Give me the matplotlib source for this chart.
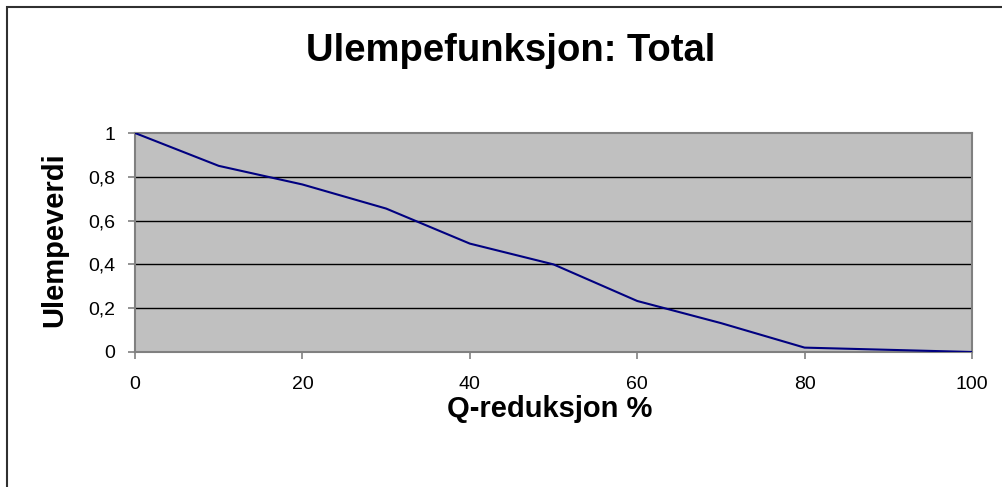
import matplotlib
matplotlib.use("Agg")
import matplotlib.pyplot as plt
from matplotlib.patches import Rectangle

x_values = [0, 10, 20, 30, 40, 50, 60, 70, 80, 90, 100]
y_values = [1.0, 0.85, 0.765, 0.655, 0.495, 0.40, 0.233, 0.132, 0.02, 0.01, 0.0]
x_ticks = [0, 20, 40, 60, 80, 100]
y_ticks = [0, 0.2, 0.4, 0.6, 0.8, 1.0]
y_tick_labels = ["0", "0,2", "0,4", "0,6", "0,8", "1"]

plt.rcParams['font.family'] = ['Liberation Sans', 'DejaVu Sans']

W, H = 1002, 487
fig = plt.figure(figsize=(W / 100, H / 100), dpi=100)
fig.patch.set_facecolor('white')

# outer chart frame (only left/top visible)
fig.patches.append(Rectangle((7 / W, -0.1), 1.2, 1 - 7 / H + 0.1, transform=fig.transFigure,
                             fill=False, edgecolor='#303030', linewidth=1.5, zorder=0))

left, right, top, bottom = 135, 972, 133, 352
ax = fig.add_axes([left / W, 1 - bottom / H, (right - left) / W, (bottom - top) / H])
ax.set_facecolor('#c0c0c0')
ax.plot(x_values, y_values, color='#000080', linewidth=1.5, zorder=3)
ax.set_xlim(0, 100)
ax.set_ylim(0, 1)
ax.set_xticks(x_ticks)
ax.set_xticklabels([str(v) for v in x_ticks])
ax.set_yticks(y_ticks)
ax.set_yticklabels(y_tick_labels)
for yv in y_ticks[1:-1]:
    ax.axhline(yv, color='black', linewidth=1.0, zorder=2)
for s in ax.spines.values():
    s.set_color('#808080')
    s.set_linewidth(1.5)
ax.tick_params(axis='both', direction='out', length=5, width=1.2, color='#808080',
               labelsize=14, labelcolor='black')
ax.tick_params(axis='x', pad=12)
ax.tick_params(axis='y', pad=9)

fig.text(511 / W, 1 - 51 / H, 'Ulempefunksjon: Total', ha='center', va='center',
         fontsize=27.5, fontweight='bold')
fig.text(550 / W, 1 - 409 / H, 'Q-reduksjon %', ha='center', va='center',
         fontsize=21, fontweight='bold')
fig.text(54 / W, 1 - 240 / H, 'Ulempeverdi', ha='center', va='center', rotation=90,
         fontsize=21, fontweight='bold')

fig.savefig('out.png', dpi=100)
